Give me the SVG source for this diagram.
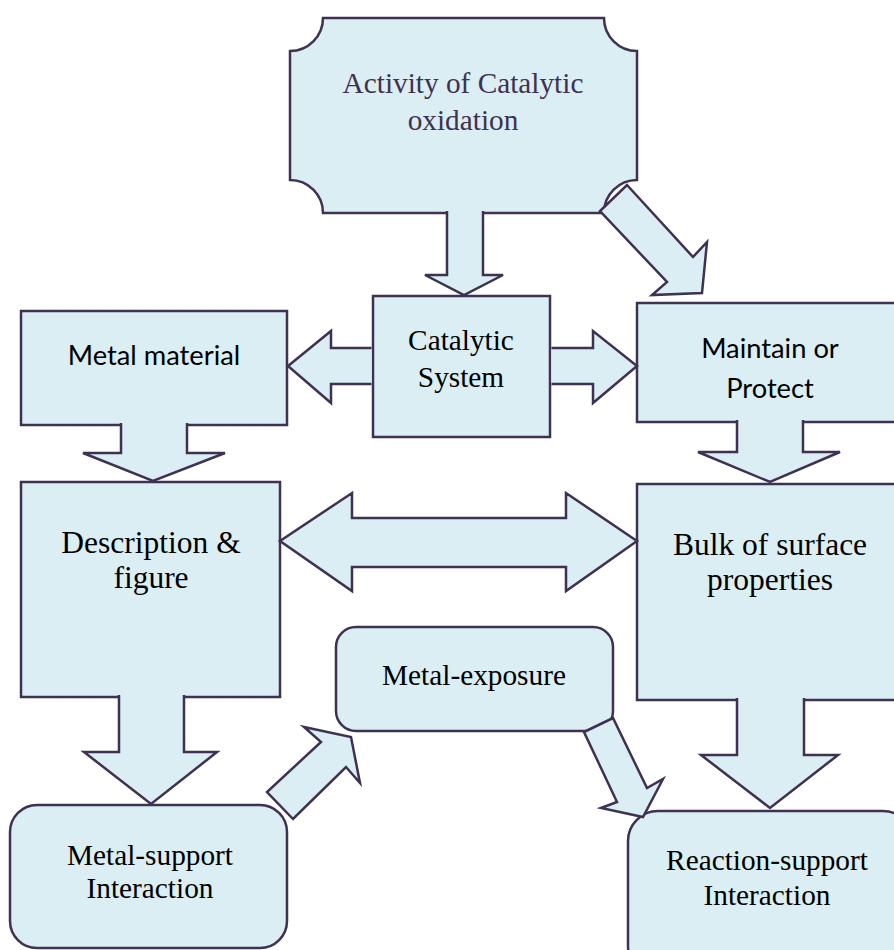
<svg xmlns="http://www.w3.org/2000/svg" width="894" height="950" viewBox="0 0 894 950">
<style>
.box{fill:#DAEEF3;stroke:#3F3151;stroke-width:2.5;stroke-linejoin:miter}
.arr{fill:#DAEEF3;stroke:#3F3151;stroke-width:2.5;stroke-linejoin:miter}
.serif{font-family:"Liberation Serif","Times New Roman",serif;font-size:29.3px;fill:#000;text-anchor:middle}
.big{font-size:31.5px}
.sans{font-family:Lato,"Open Sans",sans-serif;font-size:27.3px;fill:#000;text-anchor:middle}
.title{fill:#3F3151}
</style>
<rect width="894" height="950" fill="#fff"/>
<g id="nodes">
<g id="activity">
<path class="box" d="M323 18 L604 18 A33 33 0 0 0 637 51 L637 180 A33 33 0 0 0 604 213 L323 213 A33 33 0 0 0 290 180 L290 51 A33 33 0 0 0 323 18 Z"/>
<text class="serif title" x="463" y="93">Activity of Catalytic</text>
<text class="serif title" x="463" y="130">oxidation</text>
</g>
<g id="catalytic">
<rect class="box" x="373" y="296" width="177" height="141"/>
<text class="serif" x="461" y="350">Catalytic</text>
<text class="serif" x="461" y="387">System</text>
</g>
<g id="metal-material">
<rect class="box" x="21" y="311" width="266" height="114"/>
<text class="sans" x="154" y="365">Metal material</text>
</g>
<g id="maintain">
<rect class="box" x="637" y="303" width="275" height="119"/>
<text class="sans" x="770" y="358">Maintain or</text>
<text class="sans" x="770" y="398">Protect</text>
</g>
<g id="description">
<rect class="box" x="21" y="482" width="259" height="215"/>
<text class="serif big" x="151" y="553">Description &amp;</text>
<text class="serif big" x="151" y="588">figure</text>
</g>
<g id="bulk">
<rect class="box" x="637" y="484" width="275" height="216"/>
<text class="serif big" x="770" y="555">Bulk of surface</text>
<text class="serif big" x="770" y="590">properties</text>
</g>
<g id="metal-exposure">
<rect class="box" x="336" y="627" width="277" height="104" rx="20" ry="20"/>
<text class="serif" x="474" y="685">Metal-exposure</text>
</g>
<g id="metal-support">
<rect class="box" x="10" y="805" width="277" height="143" rx="27" ry="27"/>
<text class="serif" x="150" y="865">Metal-support</text>
<text class="serif" x="150" y="898">Interaction</text>
</g>
<g id="reaction-support">
<rect class="box" x="628" y="811" width="285" height="165" rx="30" ry="30"/>
<text class="serif" x="767" y="870">Reaction-support</text>
<text class="serif" x="767" y="905">Interaction</text>
</g>
</g>
<g id="connectors">
<path class="arr" d="M447 211 L447 275 L425 275 L464 295 L503 275 L483 275 L483 211"/>
<path class="arr" d="M627 185 L693 257 L707 242 L702 293 L652 295 L667 282 L600 211 Z"/>
<path class="arr" d="M371.5 348 L331 348 L331 331 L288 366 L331 403 L331 384 L371.5 384"/>
<path class="arr" d="M551.5 348 L593 348 L593 331 L637 366 L593 403 L593 384 L551.5 384"/>
<path class="arr" d="M121 423 L121 453 L83 453 L153 481 L225 453 L187 453 L187 423"/>
<path class="arr" d="M737 420 L737 452 L698 452 L770 482 L840 452 L803 452 L803 420"/>
<path class="arr" d="M280 541 L352 493 L352 518 L566 518 L566 493 L637 541 L566 591 L566 567 L352 567 L352 591 Z"/>
<path class="arr" d="M119 695 L119 752 L84 752 L151 804 L217 752 L184 752 L184 695"/>
<path class="arr" d="M737 698 L737 755 L701 755 L770 808 L838 755 L804 755 L804 698"/>
<path class="arr" d="M293 819 L267 792 L321 742 L304 727 L351 737 L360 783 L346 767 Z"/>
<path class="arr" d="M584 732 L613 718 L647 788 L663 779 L643 817 L601 808 L617 802 Z"/>
</g>
</svg>
